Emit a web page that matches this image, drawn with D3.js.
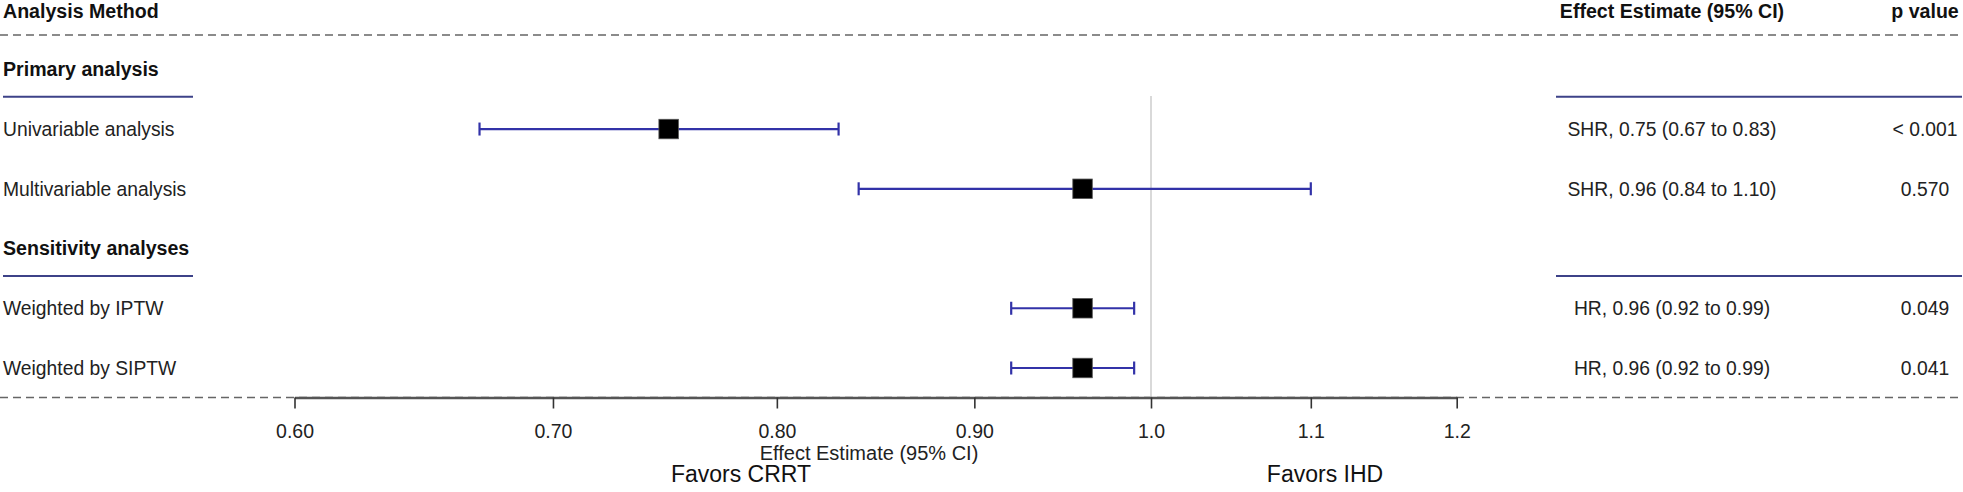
<!DOCTYPE html>
<html>
<head>
<meta charset="utf-8">
<script src="https://cdn.jsdelivr.net/npm/d3@7"></script>
<style>
  html, body { margin: 0; padding: 0; background: #fff; }
  svg { display: block; font-family: "Liberation Sans", Arial, sans-serif; }
</style>
</head>
<body>
<svg id="chart" width="1963" height="492"></svg>
<script>
// ---------- data ----------
const headerLeft = "Analysis Method";
const headerEffect = "Effect Estimate (95% CI)";
const headerP = "p value";
const groups = ["Primary analysis", "Sensitivity analyses"];
const groupRow = [1, 4];
const labels = ["Univariable analysis", "Multivariable analysis", "Weighted by IPTW", "Weighted by SIPTW"];
const labelRow = [2, 3, 5, 6];
const estimate = [0.75, 0.96, 0.96, 0.96];
const lower = [0.67, 0.84, 0.92, 0.92];
const upper = [0.83, 1.10, 0.99, 0.99];
const effectText = ["SHR, 0.75 (0.67 to 0.83)", "SHR, 0.96 (0.84 to 1.10)", "HR, 0.96 (0.92 to 0.99)", "HR, 0.96 (0.92 to 0.99)"];
const pText = ["< 0.001", "0.570", "0.049", "0.041"];
const tickValues = [0.6, 0.7, 0.8, 0.9, 1.0, 1.1, 1.2];
const tickLabels = ["0.60", "0.70", "0.80", "0.90", "1.0", "1.1", "1.2"];
const xTitle = "Effect Estimate (95% CI)";
const favorLeft = "Favors CRRT";
const favorRight = "Favors IHD";

// ---------- layout ----------
const W = 1963, H = 492;
const svg = d3.select("#chart");
svg.append("rect").attr("width", W).attr("height", H).attr("fill", "#fff");

const x = d3.scaleLog().domain([0.6, 1.2]).range([294.5, 1456.7]);
const y = d3.scaleLinear().domain([1, 6]).range([69.3, 368]);
const headerY = 11.5;
const axisY = 397.5;
const fs = 19.3;
const base = v => v + 0.35 * fs;

// top dashed separator
svg.append("line").attr("x1", 0).attr("x2", 1960).attr("y1", 35).attr("y2", 35)
  .attr("stroke", "#666").attr("stroke-width", 1.3).attr("stroke-dasharray", "8,5");
// bottom dashed separator
svg.append("line").attr("x1", 0).attr("x2", 1960).attr("y1", axisY).attr("y2", axisY)
  .attr("stroke", "#666").attr("stroke-width", 1.3).attr("stroke-dasharray", "8,5");

// headers
svg.append("text").attr("x", 3).attr("y", base(headerY)).attr("font-size", 19.6).attr("font-weight", "bold")
  .attr("fill", "#111").text(headerLeft);
svg.append("text").attr("x", 1672).attr("y", base(headerY)).attr("text-anchor", "middle").attr("font-size", 19.6)
  .attr("font-weight", "bold").attr("fill", "#111").text(headerEffect);
svg.append("text").attr("x", 1925).attr("y", base(headerY)).attr("text-anchor", "middle").attr("font-size", 19.6)
  .attr("font-weight", "bold").attr("fill", "#111").text(headerP);

// group headings and blue underline segments
groups.forEach((g, i) => {
  const gy = y(groupRow[i]);
  svg.append("text").attr("x", 3).attr("y", base(gy)).attr("font-size", 19.6).attr("font-weight", "bold")
    .attr("fill", "#111").text(g);
  const ly = gy + 27.5;
  svg.append("line").attr("x1", 3).attr("x2", 193).attr("y1", ly).attr("y2", ly)
    .attr("stroke", "#3d4288").attr("stroke-width", 2);
  svg.append("line").attr("x1", 1556).attr("x2", 1962).attr("y1", ly).attr("y2", ly)
    .attr("stroke", "#3d4288").attr("stroke-width", 2);
});

// reference line at 1
svg.append("line").attr("x1", x(1)).attr("x2", x(1)).attr("y1", 96).attr("y2", axisY)
  .attr("stroke", "#d9d9d9").attr("stroke-width", 2);

// rows
const rows = labels.map((l, i) => ({ label: l, row: labelRow[i], est: estimate[i], lo: lower[i], hi: upper[i], eff: effectText[i], p: pText[i] }));
const g = svg.append("g");
rows.forEach(d => {
  const ry = y(d.row);
  g.append("text").attr("x", 3).attr("y", base(ry)).attr("font-size", fs).attr("fill", "#222").text(d.label);
  g.append("text").attr("x", 1672).attr("y", base(ry)).attr("text-anchor", "middle").attr("font-size", fs)
    .attr("fill", "#222").text(d.eff);
  g.append("text").attr("x", 1925).attr("y", base(ry)).attr("text-anchor", "middle").attr("font-size", fs)
    .attr("fill", "#222").text(d.p);
  // CI
  g.append("line").attr("x1", x(d.lo)).attr("x2", x(d.hi)).attr("y1", ry).attr("y2", ry)
    .attr("stroke", "#3232a8").attr("stroke-width", 2.2);
  [d.lo, d.hi].forEach(v => {
    g.append("line").attr("x1", x(v)).attr("x2", x(v)).attr("y1", ry - 6.5).attr("y2", ry + 6.5)
      .attr("stroke", "#3232a8").attr("stroke-width", 2.2);
  });
  const s = 19.5;
  g.append("rect").attr("x", x(d.est) - s / 2).attr("y", ry - s / 2).attr("width", s).attr("height", s)
    .attr("fill", "#000").attr("stroke", "#555").attr("stroke-width", 0.8);
});

// x axis
const axis = d3.axisBottom(x).tickValues(tickValues).tickFormat((d, i) => tickLabels[i])
  .tickSize(11).tickSizeOuter(0).tickPadding(16);
const ag = svg.append("g").attr("transform", `translate(0,${axisY})`).call(axis);
ag.select(".domain").attr("stroke", "#555").attr("stroke-width", 2.6);
ag.selectAll(".tick line").attr("stroke", "#333").attr("stroke-width", 1.6);
ag.selectAll(".tick text").attr("font-size", 19.5).attr("fill", "#222")
  .attr("font-family", "Liberation Sans, Arial, sans-serif");

// axis title and favor labels
svg.append("text").attr("x", 869).attr("y", 460).attr("text-anchor", "middle").attr("font-size", 20)
  .attr("fill", "#222").text(xTitle);
svg.append("text").attr("x", 741).attr("y", 482).attr("text-anchor", "middle").attr("font-size", 23)
  .attr("fill", "#111").text(favorLeft);
svg.append("text").attr("x", 1325).attr("y", 482).attr("text-anchor", "middle").attr("font-size", 23)
  .attr("fill", "#111").text(favorRight);
</script>
</body>
</html>
